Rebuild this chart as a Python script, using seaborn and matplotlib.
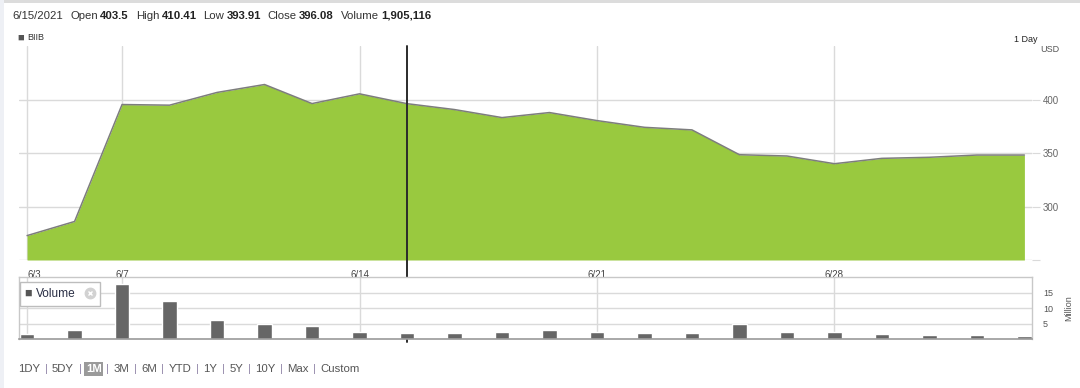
import numpy as np
import pandas as pd
import matplotlib
matplotlib.use("Agg")
import matplotlib.pyplot as plt
import seaborn as sns
from matplotlib.patches import Rectangle

# ---- data ----
dates = ["6/3", "6/4", "6/7", "6/8", "6/9", "6/10", "6/11", "6/14", "6/15", "6/16", "6/17",
         "6/18", "6/21", "6/22", "6/23", "6/24", "6/25", "6/28", "6/29", "6/30", "7/1", "7/2"]
close = [272.8, 286.0, 395.3, 394.7, 406.6, 414.0, 396.2, 405.3, 396.1, 390.6, 383.1,
         387.8, 380.3, 374.0, 371.6, 348.4, 347.2, 340.0, 345.0, 346.0, 348.1, 348.1]
volume = [1.5, 2.9, 17.8, 12.1, 6.2, 4.8, 4.2, 2.1, 1.9, 1.8, 2.1,
          2.9, 2.1, 1.8, 1.8, 4.8, 2.4, 2.1, 1.5, 1.2, 1.2, 0.9]  # million shares
tick_dates = ["6/3", "6/7", "6/14", "6/21", "6/28"]
price_ticks = [300, 350, 400]
volume_ticks = [5, 10, 15]
cursor_date = "6/15"
ticker = "BIIB"
header_items = [("6/15/2021", ""), ("Open", "403.5"), ("High", "410.41"), ("Low", "393.91"),
                ("Close", "396.08"), ("Volume", "1,905,116")]
ranges = ["1DY", "5DY", "1M", "3M", "6M", "YTD", "1Y", "5Y", "10Y", "Max", "Custom"]
active_range = "1M"

W, H = 1080, 388
GREEN = "#99c93f"
GRID = "#dadada"
TXT = "#444444"

sns.set_style("white")
plt.rcParams["font.family"] = ["Liberation Sans", "DejaVu Sans"]

df = pd.DataFrame({"date": dates, "close": close, "volume": volume})
df["idx"] = np.arange(len(df))
tick_pos = [dates.index(d) for d in tick_dates]
cursor_pos = dates.index(cursor_date)

fig = plt.figure(figsize=(W / 100, H / 100), dpi=100)
fig.patch.set_facecolor("white")


def fig_box(x0, y0, x1, y1):
    return [x0 / W, 1 - y1 / H, (x1 - x0) / W, (y1 - y0) / H]


# page chrome
fig.add_artist(Rectangle((0, 1 - 3 / H), 1, 3 / H, transform=fig.transFigure, fc="#dcdcdc", ec="none"))
fig.add_artist(Rectangle((0, 0), 4 / W, 1, transform=fig.transFigure, fc="#eef0f5", ec="none"))

xlim = (-0.17, len(dates) - 1 + 0.16)
y_min, y_max = 250, 450

# ---- price panel ----
ax = fig.add_axes(fig_box(19, 46, 1032, 260))
ax.set_axisbelow(True)
ax.fill_between(df["idx"], y_min, df["close"], color=GREEN, lw=0, zorder=2)
sns.lineplot(data=df, x="idx", y="close", ax=ax, color="#7d7d7d", lw=1.1, zorder=3)
ax.set_xlim(*xlim)
ax.set_ylim(y_min, y_max)
ax.set_xticks(tick_pos)
ax.set_xticklabels(tick_dates)
ax.set_yticks([y_min] + price_ticks)
ax.set_yticklabels([""] + [str(v) for v in price_ticks])
ax.yaxis.tick_right()
ax.grid(True, color=GRID, lw=1)
ax.tick_params(axis="x", length=6, color=GRID, labelsize=7, labelcolor=TXT, pad=1)
ax.tick_params(axis="y", length=6, color=GRID, labelsize=7, labelcolor="#666666", pad=2)
ax.get_xticklabels()[0].set_ha("left")
ax.set_xlabel("")
ax.set_ylabel("")
sns.despine(ax=ax, left=True, bottom=True, right=True, top=True)
# cursor through both panels
ax.axvline(cursor_pos, ymin=-82 / 214, ymax=1, color="#2b2b2b", lw=1.4, clip_on=False, zorder=5)

fig.text(17 / W, 1 - 38 / H, "\u25a0", fontsize=8, color="#555555", va="center", ha="left")
fig.text(27 / W, 1 - 38 / H, ticker, fontsize=6.5, color="#333333", va="center", ha="left")
fig.text(1038 / W, 1 - 40 / H, "1 Day", fontsize=6.5, color="#222222", va="center", ha="right")
fig.text(1040 / W, 1 - 50 / H, "USD", fontsize=6.5, color="#555555", va="center", ha="left")

# ---- volume panel ----
ax2 = fig.add_axes(fig_box(19, 277, 1032, 339))
ax2.set_axisbelow(True)
sns.barplot(data=df, x="idx", y="volume", ax=ax2, color="#666666", width=0.3, saturation=1, zorder=2)
ax2.set_xlim(*xlim)
ax2.set_ylim(0, 20)
ax2.set_xticks(tick_pos)
ax2.set_xticklabels([])
ax2.set_yticks(volume_ticks)
ax2.yaxis.tick_right()
ax2.yaxis.set_label_position("right")
ax2.grid(True, color=GRID, lw=1)
ax2.tick_params(axis="both", length=0, labelsize=6.5, labelcolor="#555555", pad=8)
ax2.set_xlabel("")
ax2.set_ylabel("Million", fontsize=6.5, color="#555555", labelpad=8)
for side in ["left", "right", "top"]:
    ax2.spines[side].set_color("#c8c8c8")
    ax2.spines[side].set_linewidth(1)
ax2.spines["bottom"].set_color("#9a9a9a")
ax2.spines["bottom"].set_linewidth(1.2)

# volume legend box
fig.add_artist(Rectangle((20 / W, 1 - 306 / H), 80 / W, 24 / H, transform=fig.transFigure,
                         fc="white", ec="#bdbdbd", lw=1, zorder=6))
fig.text(24.5 / W, 1 - 294 / H, "\u25a0", fontsize=9, color="#555555", va="center", ha="left", zorder=7)
fig.text(36 / W, 1 - 294 / H, "Volume", fontsize=8.6, color="#2a2f45", va="center", ha="left", zorder=7)
fig.add_artist(plt.Line2D([90 / W], [1 - 293 / H], marker="o", markersize=7.5, color="#d2d2d2",
                          transform=fig.transFigure, zorder=7))
fig.add_artist(plt.Line2D([90 / W], [1 - 293 / H], marker="x", markersize=3.5, mew=1, color="white",
                          transform=fig.transFigure, zorder=8))

renderer = fig.canvas.get_renderer()


def run_text(x_px, y_px, pieces, size):
    x = x_px
    for s, kw, gap in pieces:
        t = fig.text(x / W, 1 - y_px / H, s, fontsize=size, va="center", ha="left", **kw)
        bb = t.get_window_extent(renderer)
        x = bb.x1 + gap


# header line
pieces = []
for label, value in header_items:
    if value:
        pieces.append((label, dict(color="#333333"), 2))
        pieces.append((value, dict(color="#222222", fontweight="bold"), 7))
    else:
        pieces.append((label, dict(color="#333333"), 8))
run_text(12, 16, pieces, 8.2)

# range selector
pieces = []
for i, r in enumerate(ranges):
    if r == active_range:
        kw = dict(color="white", fontweight="bold",
                  bbox=dict(facecolor="#9a9a9a", edgecolor="none", pad=1.2))
    else:
        kw = dict(color="#555555")
    pieces.append((r, kw, 4.5))
    if i < len(ranges) - 1:
        pieces.append(("|", dict(color="#9185a8"), 4.5))
run_text(18, 369, pieces, 8.2)

fig.savefig("out.png", dpi=100)
